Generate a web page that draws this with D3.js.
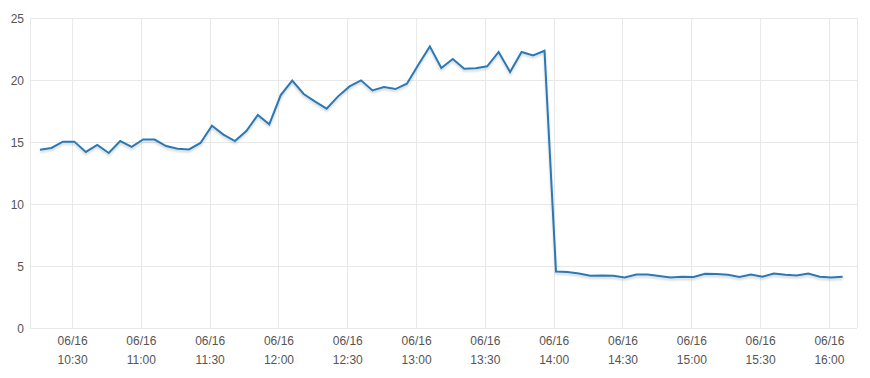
<!DOCTYPE html>
<html>
<head>
<meta charset="utf-8">
<script src="https://cdn.jsdelivr.net/npm/d3@7"></script>
<style>
  body { margin: 0; background: #fff; }
  .tick text { font-family: "Liberation Sans", Arial, sans-serif; font-size: 12px; fill: #555; }
  .grid line { stroke: #e8e8e8; shape-rendering: crispEdges; }
</style>
</head>
<body>
<div id="chart"></div>
<script>
// sample times (06/16), one every 5 minutes
var times = [
  "10:16", "10:21", "10:26", "10:31", "10:36", "10:41", "10:46", "10:51", "10:56", "11:01",
  "11:06", "11:11", "11:16", "11:21", "11:26", "11:31", "11:36", "11:41", "11:46", "11:51",
  "11:56", "12:01", "12:06", "12:11", "12:16", "12:21", "12:26", "12:31", "12:36", "12:41",
  "12:46", "12:51", "12:56", "13:01", "13:06", "13:11", "13:16", "13:21", "13:26", "13:31",
  "13:36", "13:41", "13:46", "13:51", "13:56", "14:01", "14:06", "14:11", "14:16", "14:21",
  "14:26", "14:31", "14:36", "14:41", "14:46", "14:51", "14:56", "15:01", "15:06", "15:11",
  "15:16", "15:21", "15:26", "15:31", "15:36", "15:41", "15:46", "15:51", "15:56", "16:01",
  "16:06"
];

var values = [
  14.38, 14.52, 15.03, 15.03, 14.2, 14.77, 14.11, 15.08, 14.6, 15.2,
  15.2, 14.67, 14.46, 14.4, 14.92, 16.31, 15.6, 15.08, 15.88, 17.18,
  16.43, 18.78, 19.95, 18.87, 18.25, 17.69, 18.68, 19.48, 19.97, 19.16,
  19.44, 19.27, 19.7, 21.23, 22.71, 20.97, 21.69, 20.91, 20.94, 21.1,
  22.26, 20.65, 22.26, 21.98, 22.36, 4.56, 4.51, 4.4, 4.22, 4.24,
  4.22, 4.08, 4.32, 4.32, 4.19, 4.08, 4.14, 4.11, 4.38, 4.35,
  4.3, 4.11, 4.32, 4.14, 4.4, 4.3, 4.24, 4.4, 4.14, 4.08,
  4.14
];

var yTicks = [0, 5, 10, 15, 20, 25];
var xDomain = ["10:11:40", "16:12:15"];
var day = "2015-06-16";

var svgWidth = 870;
var svgHeight = 378;

var margin = { top: 18, right: 13, bottom: 50, left: 30 };
var width = svgWidth - margin.left - margin.right;
var height = svgHeight - margin.top - margin.bottom;

var parseTime = d3.timeParse("%Y-%m-%d %H:%M:%S");
var data = times.map(function (t, i) {
    return { date: parseTime(day + " " + t + ":00"), value: values[i] };
});

var svg = d3.select("#chart")
    .append("svg")
    .attr("width", svgWidth)
    .attr("height", svgHeight);

var defs = svg.append("defs");
var shadow = defs.append("filter")
    .attr("id", "shadow")
    .attr("x", "-5%").attr("y", "-5%")
    .attr("width", "110%").attr("height", "120%");
shadow.append("feDropShadow")
    .attr("dx", 0).attr("dy", 2)
    .attr("stdDeviation", 1)
    .attr("flood-color", "#000")
    .attr("flood-opacity", 0.18);

var chartGroup = svg.append("g")
    .attr("transform", `translate(${margin.left}, ${margin.top})`);

var x = d3.scaleTime()
    .domain(xDomain.map(function (t) { return parseTime(day + " " + t); }))
    .range([0, width]);

var y = d3.scaleLinear()
    .domain([0, 25])
    .range([height, 0]);

// horizontal grid + y labels
var leftAxis = d3.axisLeft(y)
    .tickValues(yTicks)
    .tickSize(-width)
    .tickPadding(6);

chartGroup.append("g")
    .attr("class", "grid")
    .call(leftAxis)
    .call(function (g) { g.select(".domain").remove(); })
    .selectAll("text").attr("dy", "0.35em");

// vertical grid + two-line x labels
var fmtDay = d3.timeFormat("%m/%d");
var fmtTime = d3.timeFormat("%H:%M");

var bottomAxis = d3.axisBottom(x)
    .ticks(d3.timeMinute.every(30))
    .tickSize(-height)
    .tickFormat("");

var xg = chartGroup.append("g")
    .attr("class", "grid")
    .attr("transform", `translate(0, ${height})`)
    .call(bottomAxis)
    .call(function (g) { g.select(".domain").remove(); });

xg.selectAll(".tick").each(function (d) {
    var t = d3.select(this).append("text")
        .attr("text-anchor", "middle")
        .attr("y", 17);
    t.append("tspan").attr("x", 0).text(fmtDay(d));
    t.append("tspan").attr("x", 0).attr("dy", 19).text(fmtTime(d));
});

// left and right border of the plot area
chartGroup.selectAll(".border")
    .data([0, width])
    .enter().append("line")
    .attr("class", "border")
    .attr("x1", function (d) { return d; })
    .attr("x2", function (d) { return d; })
    .attr("y1", 0)
    .attr("y2", height)
    .attr("stroke", "#e8e8e8")
    .style("shape-rendering", "crispEdges");

var line = d3.line()
    .x(function (d) { return x(d.date); })
    .y(function (d) { return y(d.value); });

chartGroup.append("path")
    .datum(data)
    .attr("fill", "none")
    .attr("stroke", "#2a78b6")
    .attr("stroke-width", 2)
    .attr("stroke-linejoin", "miter")
    .attr("filter", "url(#shadow)")
    .attr("d", line);
</script>
</body>
</html>
